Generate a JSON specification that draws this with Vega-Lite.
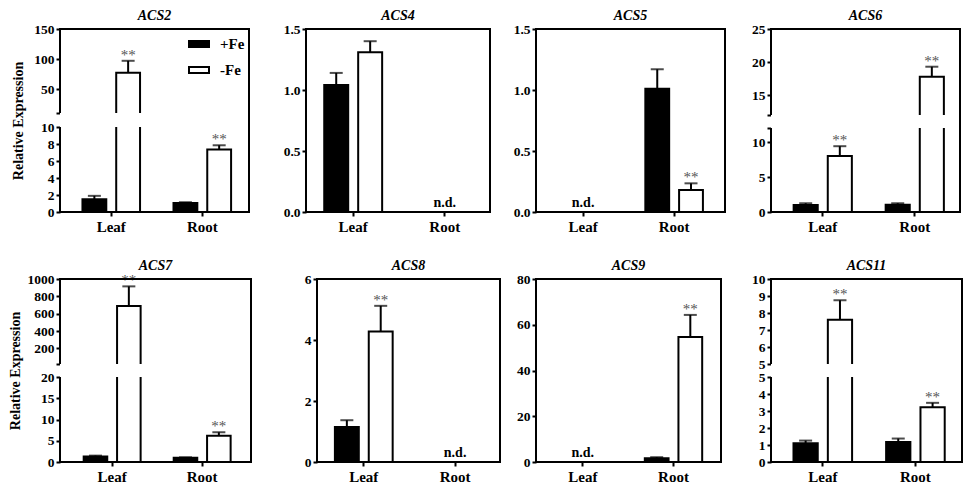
{
  "$schema": "https://vega.github.io/schema/vega-lite/v6.json",
  "background": "white",
  "padding": {"left": 8, "top": 9, "right": 0, "bottom": 0},
  "datasets": {
    "acs2": [
      {"tissue": "Leaf", "treatment": "+Fe", "mean": 1.5, "upper": 1.9, "sig": ""},
      {"tissue": "Leaf", "treatment": "-Fe", "mean": 77, "upper": 97, "sig": "**"},
      {"tissue": "Root", "treatment": "+Fe", "mean": 1.05, "upper": 1.15, "sig": ""},
      {"tissue": "Root", "treatment": "-Fe", "mean": 7.35, "upper": 7.85, "sig": "**"}
    ],
    "acs4": [
      {"tissue": "Leaf", "treatment": "+Fe", "mean": 1.04, "upper": 1.14, "sig": ""},
      {"tissue": "Leaf", "treatment": "-Fe", "mean": 1.31, "upper": 1.4, "sig": ""}
    ],
    "acs5": [
      {"tissue": "Root", "treatment": "+Fe", "mean": 1.01, "upper": 1.17, "sig": ""},
      {"tissue": "Root", "treatment": "-Fe", "mean": 0.18, "upper": 0.235, "sig": "**"}
    ],
    "acs6": [
      {"tissue": "Leaf", "treatment": "+Fe", "mean": 1.0, "upper": 1.25, "sig": ""},
      {"tissue": "Leaf", "treatment": "-Fe", "mean": 8.0, "upper": 9.4, "sig": "**"},
      {"tissue": "Root", "treatment": "+Fe", "mean": 1.05, "upper": 1.25, "sig": ""},
      {"tissue": "Root", "treatment": "-Fe", "mean": 17.8, "upper": 19.3, "sig": "**"}
    ],
    "acs7": [
      {"tissue": "Leaf", "treatment": "+Fe", "mean": 1.3, "upper": 1.5, "sig": ""},
      {"tissue": "Leaf", "treatment": "-Fe", "mean": 690, "upper": 915, "sig": "**"},
      {"tissue": "Root", "treatment": "+Fe", "mean": 1.0, "upper": 1.1, "sig": ""},
      {"tissue": "Root", "treatment": "-Fe", "mean": 6.2, "upper": 7.0, "sig": "**"}
    ],
    "acs8": [
      {"tissue": "Leaf", "treatment": "+Fe", "mean": 1.15, "upper": 1.37, "sig": ""},
      {"tissue": "Leaf", "treatment": "-Fe", "mean": 4.28, "upper": 5.12, "sig": "**"}
    ],
    "acs9": [
      {"tissue": "Root", "treatment": "+Fe", "mean": 1.6, "upper": 2.1, "sig": ""},
      {"tissue": "Root", "treatment": "-Fe", "mean": 54.6, "upper": 64.3, "sig": "**"}
    ],
    "acs11": [
      {"tissue": "Leaf", "treatment": "+Fe", "mean": 1.1, "upper": 1.26, "sig": ""},
      {"tissue": "Leaf", "treatment": "-Fe", "mean": 7.6, "upper": 8.75, "sig": "**"},
      {"tissue": "Root", "treatment": "+Fe", "mean": 1.18, "upper": 1.38, "sig": ""},
      {"tissue": "Root", "treatment": "-Fe", "mean": 3.22, "upper": 3.48, "sig": "**"}
    ]
  },
  "spacing": 25,
  "resolve": {"scale": {"fill": "independent", "xOffset": "independent"}, "legend": {"fill": "independent"}},
  "vconcat": [
    {
      "spacing": 0,
      "resolve": {"scale": {"fill": "independent", "xOffset": "independent"}, "legend": {"fill": "independent"}},
      "hconcat": [
        {
          "width": 189, "height": 183, "title": "ACS2",
          "layer": [
            {"data": {"name": "acs2"}, "mark": {"type": "bar", "stroke": "black", "strokeWidth": 2},
             "encoding": {
               "x": {"field": "tissue", "type": "nominal", "title": null, "scale": {"domain": ["Leaf", "Root"], "paddingInner": 0.34, "paddingOuter": 0.208, "align": 0.56}},
               "xOffset": {"field": "treatment", "type": "nominal", "scale": {"domain": ["+Fe", "-Fe"], "paddingInner": 0.294, "paddingOuter": 0.037}},
               "y": {"field": "mean", "type": "quantitative", "title": "Relative Expression", "scale": {"domain": [0, 10, 10.001, 150], "range": [183, 98, 84, 0], "nice": false, "zero": false},
                     "axis": {"values": [0, 2, 4, 6, 8, 10, 10.001, 50, 100, 150], "format": "d", "tickMinStep": 0.0001, "labelExpr": "datum.value == 10.001 ? '' : datum.label", "minExtent": 30}},
               "fill": {"field": "treatment", "type": "nominal", "scale": {"domain": ["+Fe", "-Fe"], "range": ["black", "white"]},
                        "legend": {"orient": "top-right", "title": null, "offset": 4, "symbolType": "M-1,-0.3L1,-0.3L1,0.3L-1,0.3Z", "symbolSize": 400, "symbolStrokeColor": "black", "symbolStrokeWidth": 2, "labelFont": "Liberation Serif", "labelFontWeight": "bold", "labelFontSize": 15, "labelColor": "black", "labelOffset": 10, "rowPadding": 7}}
             }},
            {"data": {"name": "acs2"}, "mark": {"type": "rule", "color": "black", "strokeWidth": 2},
             "encoding": {"x": {"field": "tissue", "type": "nominal", "title": null}, "xOffset": {"field": "treatment", "type": "nominal"},
                          "y": {"field": "mean", "type": "quantitative", "title": "Relative Expression"}, "y2": {"field": "upper"}}},
            {"data": {"name": "acs2"}, "mark": {"type": "tick", "color": "black", "thickness": 2, "size": 13},
             "encoding": {"x": {"field": "tissue", "type": "nominal", "title": null}, "xOffset": {"field": "treatment", "type": "nominal"},
                          "y": {"field": "upper", "type": "quantitative", "title": "Relative Expression"}}},
            {"data": {"name": "acs2"}, "transform": [{"filter": "datum.sig == '**'"}],
             "mark": {"type": "text", "font": "Liberation Serif", "fontSize": 15, "color": "#555555", "baseline": "alphabetic", "dy": -1},
             "encoding": {"x": {"field": "tissue", "type": "nominal", "title": null}, "xOffset": {"field": "treatment", "type": "nominal"},
                          "y": {"field": "upper", "type": "quantitative", "title": "Relative Expression"}, "text": {"field": "sig"}}},
            {"data": {"values": [{}]}, "mark": {"type": "rect", "color": "white"},
             "encoding": {"y": {"datum": 10, "type": "quantitative", "title": "Relative Expression"}, "y2": {"datum": 10.001}}},
            {"data": {"values": [{}]}, "mark": {"type": "rect", "filled": false, "color": "black", "strokeWidth": 2, "strokeDash": [646, 14, 200]}, "encoding": {}}
          ]
        },
        {
          "width": 184, "height": 183, "title": "ACS4",
          "layer": [
            {"data": {"name": "acs4"}, "mark": {"type": "bar", "stroke": "black", "strokeWidth": 2},
             "encoding": {
               "x": {"field": "tissue", "type": "nominal", "title": null, "scale": {"domain": ["Leaf", "Root"], "paddingInner": 0.34, "paddingOuter": 0.175, "align": 0.53}},
               "xOffset": {"field": "treatment", "type": "nominal", "scale": {"domain": ["+Fe", "-Fe"], "paddingInner": 0.294, "paddingOuter": 0.037}},
               "y": {"field": "mean", "type": "quantitative", "title": null, "scale": {"domain": [0, 1.5], "nice": false, "zero": false},
                     "axis": {"values": [0, 0.5, 1, 1.5], "format": ".1f", "minExtent": 56}},
               "fill": {"field": "treatment", "type": "nominal", "scale": {"domain": ["+Fe", "-Fe"], "range": ["black", "white"]}, "legend": null}
             }},
            {"data": {"name": "acs4"}, "mark": {"type": "rule", "color": "black", "strokeWidth": 2},
             "encoding": {"x": {"field": "tissue", "type": "nominal", "title": null}, "xOffset": {"field": "treatment", "type": "nominal"},
                          "y": {"field": "mean", "type": "quantitative", "title": null}, "y2": {"field": "upper"}}},
            {"data": {"name": "acs4"}, "mark": {"type": "tick", "color": "black", "thickness": 2, "size": 13},
             "encoding": {"x": {"field": "tissue", "type": "nominal", "title": null}, "xOffset": {"field": "treatment", "type": "nominal"},
                          "y": {"field": "upper", "type": "quantitative", "title": null}}},
            {"data": {"values": [{"tissue": "Root", "label": "n.d."}]},
             "mark": {"type": "text", "font": "Liberation Serif", "fontWeight": "bold", "fontSize": 14, "color": "black", "baseline": "alphabetic", "dy": -5},
             "encoding": {"x": {"field": "tissue", "type": "nominal", "title": null}, "y": {"datum": 0, "type": "quantitative", "title": null}, "text": {"field": "label"}}},
            {"data": {"values": [{}]}, "mark": {"type": "rect", "filled": false, "color": "black", "strokeWidth": 2}, "encoding": {}}
          ]
        },
        {
          "width": 189, "height": 183, "title": "ACS5",
          "layer": [
            {"data": {"name": "acs5"}, "mark": {"type": "bar", "stroke": "black", "strokeWidth": 2},
             "encoding": {
               "x": {"field": "tissue", "type": "nominal", "title": null, "scale": {"domain": ["Leaf", "Root"], "paddingInner": 0.34, "paddingOuter": 0.208, "align": 0.45}},
               "xOffset": {"field": "treatment", "type": "nominal", "scale": {"domain": ["+Fe", "-Fe"], "paddingInner": 0.294, "paddingOuter": 0.037}},
               "y": {"field": "mean", "type": "quantitative", "title": null, "scale": {"domain": [0, 1.5], "nice": false, "zero": false},
                     "axis": {"values": [0, 0.5, 1, 1.5], "format": ".1f", "minExtent": 45}},
               "fill": {"field": "treatment", "type": "nominal", "scale": {"domain": ["+Fe", "-Fe"], "range": ["black", "white"]}, "legend": null}
             }},
            {"data": {"name": "acs5"}, "mark": {"type": "rule", "color": "black", "strokeWidth": 2},
             "encoding": {"x": {"field": "tissue", "type": "nominal", "title": null}, "xOffset": {"field": "treatment", "type": "nominal"},
                          "y": {"field": "mean", "type": "quantitative", "title": null}, "y2": {"field": "upper"}}},
            {"data": {"name": "acs5"}, "mark": {"type": "tick", "color": "black", "thickness": 2, "size": 13},
             "encoding": {"x": {"field": "tissue", "type": "nominal", "title": null}, "xOffset": {"field": "treatment", "type": "nominal"},
                          "y": {"field": "upper", "type": "quantitative", "title": null}}},
            {"data": {"name": "acs5"}, "transform": [{"filter": "datum.sig == '**'"}],
             "mark": {"type": "text", "font": "Liberation Serif", "fontSize": 15, "color": "#555555", "baseline": "alphabetic", "dy": -1},
             "encoding": {"x": {"field": "tissue", "type": "nominal", "title": null}, "xOffset": {"field": "treatment", "type": "nominal"},
                          "y": {"field": "upper", "type": "quantitative", "title": null}, "text": {"field": "sig"}}},
            {"data": {"values": [{"tissue": "Leaf", "label": "n.d."}]},
             "mark": {"type": "text", "font": "Liberation Serif", "fontWeight": "bold", "fontSize": 14, "color": "black", "baseline": "alphabetic", "dy": -5},
             "encoding": {"x": {"field": "tissue", "type": "nominal", "title": null}, "y": {"datum": 0, "type": "quantitative", "title": null}, "text": {"field": "label"}}},
            {"data": {"values": [{}]}, "mark": {"type": "rect", "filled": false, "color": "black", "strokeWidth": 2}, "encoding": {}}
          ]
        },
        {
          "width": 189, "height": 183, "title": "ACS6",
          "layer": [
            {"data": {"name": "acs6"}, "mark": {"type": "bar", "stroke": "black", "strokeWidth": 2},
             "encoding": {
               "x": {"field": "tissue", "type": "nominal", "title": null, "scale": {"domain": ["Leaf", "Root"], "paddingInner": 0.34, "paddingOuter": 0.197, "align": 0.59}},
               "xOffset": {"field": "treatment", "type": "nominal", "scale": {"domain": ["+Fe", "-Fe"], "paddingInner": 0.294, "paddingOuter": 0.037}},
               "y": {"field": "mean", "type": "quantitative", "title": null, "scale": {"domain": [0, 12, 12.001, 25], "range": [183, 99, 86, 0], "nice": false, "zero": false},
                     "axis": {"values": [0, 5, 10, 12, 12.001, 15, 20, 25], "format": "d", "tickMinStep": 0.0001, "labelExpr": "datum.value == 12 || datum.value == 12.001 ? '' : datum.label", "minExtent": 45}},
               "fill": {"field": "treatment", "type": "nominal", "scale": {"domain": ["+Fe", "-Fe"], "range": ["black", "white"]}, "legend": null}
             }},
            {"data": {"name": "acs6"}, "mark": {"type": "rule", "color": "black", "strokeWidth": 2},
             "encoding": {"x": {"field": "tissue", "type": "nominal", "title": null}, "xOffset": {"field": "treatment", "type": "nominal"},
                          "y": {"field": "mean", "type": "quantitative", "title": null}, "y2": {"field": "upper"}}},
            {"data": {"name": "acs6"}, "mark": {"type": "tick", "color": "black", "thickness": 2, "size": 13},
             "encoding": {"x": {"field": "tissue", "type": "nominal", "title": null}, "xOffset": {"field": "treatment", "type": "nominal"},
                          "y": {"field": "upper", "type": "quantitative", "title": null}}},
            {"data": {"name": "acs6"}, "transform": [{"filter": "datum.sig == '**'"}],
             "mark": {"type": "text", "font": "Liberation Serif", "fontSize": 15, "color": "#555555", "baseline": "alphabetic", "dy": -1},
             "encoding": {"x": {"field": "tissue", "type": "nominal", "title": null}, "xOffset": {"field": "treatment", "type": "nominal"},
                          "y": {"field": "upper", "type": "quantitative", "title": null}, "text": {"field": "sig"}}},
            {"data": {"values": [{}]}, "mark": {"type": "rect", "color": "white"},
             "encoding": {"y": {"datum": 12, "type": "quantitative", "title": null}, "y2": {"datum": 12.001}}},
            {"data": {"values": [{}]}, "mark": {"type": "rect", "filled": false, "color": "black", "strokeWidth": 2, "strokeDash": [645, 13, 200]}, "encoding": {}}
          ]
        }
      ]
    },
    {
      "spacing": 0,
      "resolve": {"scale": {"fill": "independent", "xOffset": "independent"}, "legend": {"fill": "independent"}},
      "hconcat": [
        {
          "width": 191, "height": 183, "title": "ACS7",
          "layer": [
            {"data": {"name": "acs7"}, "mark": {"type": "bar", "stroke": "black", "strokeWidth": 2},
             "encoding": {
               "x": {"field": "tissue", "type": "nominal", "title": null, "scale": {"domain": ["Leaf", "Root"], "paddingInner": 0.34, "paddingOuter": 0.231, "align": 0.54}},
               "xOffset": {"field": "treatment", "type": "nominal", "scale": {"domain": ["+Fe", "-Fe"], "paddingInner": 0.294, "paddingOuter": 0.037}},
               "y": {"field": "mean", "type": "quantitative", "title": "Relative Expression", "scale": {"domain": [0, 20, 20.001, 1000], "range": [183, 98, 85, 0], "nice": false, "zero": false},
                     "axis": {"values": [0, 5, 10, 15, 20, 20.001, 200, 400, 600, 800, 1000], "format": "d", "tickMinStep": 0.0001, "labelExpr": "datum.value == 20.001 ? '' : datum.label", "minExtent": 30}},
               "fill": {"field": "treatment", "type": "nominal", "scale": {"domain": ["+Fe", "-Fe"], "range": ["black", "white"]}, "legend": null}
             }},
            {"data": {"name": "acs7"}, "mark": {"type": "rule", "color": "black", "strokeWidth": 2},
             "encoding": {"x": {"field": "tissue", "type": "nominal", "title": null}, "xOffset": {"field": "treatment", "type": "nominal"},
                          "y": {"field": "mean", "type": "quantitative", "title": "Relative Expression"}, "y2": {"field": "upper"}}},
            {"data": {"name": "acs7"}, "mark": {"type": "tick", "color": "black", "thickness": 2, "size": 13},
             "encoding": {"x": {"field": "tissue", "type": "nominal", "title": null}, "xOffset": {"field": "treatment", "type": "nominal"},
                          "y": {"field": "upper", "type": "quantitative", "title": "Relative Expression"}}},
            {"data": {"name": "acs7"}, "transform": [{"filter": "datum.sig == '**'"}],
             "mark": {"type": "text", "font": "Liberation Serif", "fontSize": 15, "color": "#555555", "baseline": "alphabetic", "dy": -1},
             "encoding": {"x": {"field": "tissue", "type": "nominal", "title": null}, "xOffset": {"field": "treatment", "type": "nominal"},
                          "y": {"field": "upper", "type": "quantitative", "title": "Relative Expression"}, "text": {"field": "sig"}}},
            {"data": {"values": [{}]}, "mark": {"type": "rect", "color": "white"},
             "encoding": {"y": {"datum": 20, "type": "quantitative", "title": "Relative Expression"}, "y2": {"datum": 20.001}}},
            {"data": {"values": [{}]}, "mark": {"type": "rect", "filled": false, "color": "black", "strokeWidth": 2, "strokeDash": [650, 13, 200]}, "encoding": {}}
          ]
        },
        {
          "width": 183, "height": 183, "title": "ACS8",
          "layer": [
            {"data": {"name": "acs8"}, "mark": {"type": "bar", "stroke": "black", "strokeWidth": 2},
             "encoding": {
               "x": {"field": "tissue", "type": "nominal", "title": null, "scale": {"domain": ["Leaf", "Root"], "paddingInner": 0.34, "paddingOuter": 0.172, "align": 0.53}},
               "xOffset": {"field": "treatment", "type": "nominal", "scale": {"domain": ["+Fe", "-Fe"], "paddingInner": 0.294, "paddingOuter": 0.037}},
               "y": {"field": "mean", "type": "quantitative", "title": null, "scale": {"domain": [0, 6], "nice": false, "zero": false},
                     "axis": {"values": [0, 2, 4, 6], "format": "d", "minExtent": 65}},
               "fill": {"field": "treatment", "type": "nominal", "scale": {"domain": ["+Fe", "-Fe"], "range": ["black", "white"]}, "legend": null}
             }},
            {"data": {"name": "acs8"}, "mark": {"type": "rule", "color": "black", "strokeWidth": 2},
             "encoding": {"x": {"field": "tissue", "type": "nominal", "title": null}, "xOffset": {"field": "treatment", "type": "nominal"},
                          "y": {"field": "mean", "type": "quantitative", "title": null}, "y2": {"field": "upper"}}},
            {"data": {"name": "acs8"}, "mark": {"type": "tick", "color": "black", "thickness": 2, "size": 13},
             "encoding": {"x": {"field": "tissue", "type": "nominal", "title": null}, "xOffset": {"field": "treatment", "type": "nominal"},
                          "y": {"field": "upper", "type": "quantitative", "title": null}}},
            {"data": {"name": "acs8"}, "transform": [{"filter": "datum.sig == '**'"}],
             "mark": {"type": "text", "font": "Liberation Serif", "fontSize": 15, "color": "#555555", "baseline": "alphabetic", "dy": -1},
             "encoding": {"x": {"field": "tissue", "type": "nominal", "title": null}, "xOffset": {"field": "treatment", "type": "nominal"},
                          "y": {"field": "upper", "type": "quantitative", "title": null}, "text": {"field": "sig"}}},
            {"data": {"values": [{"tissue": "Root", "label": "n.d."}]},
             "mark": {"type": "text", "font": "Liberation Serif", "fontWeight": "bold", "fontSize": 14, "color": "black", "baseline": "alphabetic", "dy": -5},
             "encoding": {"x": {"field": "tissue", "type": "nominal", "title": null}, "y": {"datum": 0, "type": "quantitative", "title": null}, "text": {"field": "label"}}},
            {"data": {"values": [{}]}, "mark": {"type": "rect", "filled": false, "color": "black", "strokeWidth": 2}, "encoding": {}}
          ]
        },
        {
          "width": 185, "height": 183, "title": "ACS9",
          "layer": [
            {"data": {"name": "acs9"}, "mark": {"type": "bar", "stroke": "black", "strokeWidth": 2},
             "encoding": {
               "x": {"field": "tissue", "type": "nominal", "title": null, "scale": {"domain": ["Leaf", "Root"], "paddingInner": 0.34, "paddingOuter": 0.19, "align": 0.49}},
               "xOffset": {"field": "treatment", "type": "nominal", "scale": {"domain": ["+Fe", "-Fe"], "paddingInner": 0.294, "paddingOuter": 0.037}},
               "y": {"field": "mean", "type": "quantitative", "title": null, "scale": {"domain": [0, 80], "nice": false, "zero": false},
                     "axis": {"values": [0, 20, 40, 60, 80], "format": "d", "minExtent": 35}},
               "fill": {"field": "treatment", "type": "nominal", "scale": {"domain": ["+Fe", "-Fe"], "range": ["black", "white"]}, "legend": null}
             }},
            {"data": {"name": "acs9"}, "mark": {"type": "rule", "color": "black", "strokeWidth": 2},
             "encoding": {"x": {"field": "tissue", "type": "nominal", "title": null}, "xOffset": {"field": "treatment", "type": "nominal"},
                          "y": {"field": "mean", "type": "quantitative", "title": null}, "y2": {"field": "upper"}}},
            {"data": {"name": "acs9"}, "mark": {"type": "tick", "color": "black", "thickness": 2, "size": 13},
             "encoding": {"x": {"field": "tissue", "type": "nominal", "title": null}, "xOffset": {"field": "treatment", "type": "nominal"},
                          "y": {"field": "upper", "type": "quantitative", "title": null}}},
            {"data": {"name": "acs9"}, "transform": [{"filter": "datum.sig == '**'"}],
             "mark": {"type": "text", "font": "Liberation Serif", "fontSize": 15, "color": "#555555", "baseline": "alphabetic", "dy": -1},
             "encoding": {"x": {"field": "tissue", "type": "nominal", "title": null}, "xOffset": {"field": "treatment", "type": "nominal"},
                          "y": {"field": "upper", "type": "quantitative", "title": null}, "text": {"field": "sig"}}},
            {"data": {"values": [{"tissue": "Leaf", "label": "n.d."}]},
             "mark": {"type": "text", "font": "Liberation Serif", "fontWeight": "bold", "fontSize": 14, "color": "black", "baseline": "alphabetic", "dy": -5},
             "encoding": {"x": {"field": "tissue", "type": "nominal", "title": null}, "y": {"datum": 0, "type": "quantitative", "title": null}, "text": {"field": "label"}}},
            {"data": {"values": [{}]}, "mark": {"type": "rect", "filled": false, "color": "black", "strokeWidth": 2}, "encoding": {}}
          ]
        },
        {
          "width": 191, "height": 183, "title": "ACS11",
          "layer": [
            {"data": {"name": "acs11"}, "mark": {"type": "bar", "stroke": "black", "strokeWidth": 2},
             "encoding": {
               "x": {"field": "tissue", "type": "nominal", "title": null, "scale": {"domain": ["Leaf", "Root"], "paddingInner": 0.34, "paddingOuter": 0.201, "align": 0.57}},
               "xOffset": {"field": "treatment", "type": "nominal", "scale": {"domain": ["+Fe", "-Fe"], "paddingInner": 0.294, "paddingOuter": 0.037}},
               "y": {"field": "mean", "type": "quantitative", "title": null, "scale": {"domain": [0, 5, 5.001, 10], "range": [183, 98, 85, 0], "nice": false, "zero": false},
                     "axis": {"values": [0, 1, 2, 3, 4, 5, 5.001, 6, 7, 8, 9, 10], "format": "d", "tickMinStep": 0.0001, "tickCount": 50, "minExtent": 49}},
               "fill": {"field": "treatment", "type": "nominal", "scale": {"domain": ["+Fe", "-Fe"], "range": ["black", "white"]}, "legend": null}
             }},
            {"data": {"name": "acs11"}, "mark": {"type": "rule", "color": "black", "strokeWidth": 2},
             "encoding": {"x": {"field": "tissue", "type": "nominal", "title": null}, "xOffset": {"field": "treatment", "type": "nominal"},
                          "y": {"field": "mean", "type": "quantitative", "title": null}, "y2": {"field": "upper"}}},
            {"data": {"name": "acs11"}, "mark": {"type": "tick", "color": "black", "thickness": 2, "size": 13},
             "encoding": {"x": {"field": "tissue", "type": "nominal", "title": null}, "xOffset": {"field": "treatment", "type": "nominal"},
                          "y": {"field": "upper", "type": "quantitative", "title": null}}},
            {"data": {"name": "acs11"}, "transform": [{"filter": "datum.sig == '**'"}],
             "mark": {"type": "text", "font": "Liberation Serif", "fontSize": 15, "color": "#555555", "baseline": "alphabetic", "dy": -1},
             "encoding": {"x": {"field": "tissue", "type": "nominal", "title": null}, "xOffset": {"field": "treatment", "type": "nominal"},
                          "y": {"field": "upper", "type": "quantitative", "title": null}, "text": {"field": "sig"}}},
            {"data": {"values": [{}]}, "mark": {"type": "rect", "color": "white"},
             "encoding": {"y": {"datum": 5, "type": "quantitative", "title": null}, "y2": {"datum": 5.001}}},
            {"data": {"values": [{}]}, "mark": {"type": "rect", "filled": false, "color": "black", "strokeWidth": 2, "strokeDash": [650, 13, 200]}, "encoding": {}}
          ]
        }
      ]
    }
  ],
  "config": {
    "view": {"stroke": null},
    "font": "Liberation Serif",
    "axis": {"domain": false, "grid": false, "ticks": true, "tickColor": "black", "tickWidth": 2, "tickSize": 4,
             "labelFont": "Liberation Serif", "labelFontWeight": "bold", "labelColor": "black", "labelOverlap": false,
             "titleFont": "Liberation Serif", "titleFontWeight": "bold", "titleColor": "black"},
    "axisX": {"labelFontSize": 15, "labelPadding": 3, "labelAngle": 0},
    "axisY": {"labelFontSize": 13.5, "labelPadding": 2, "titleFontSize": 14, "titlePadding": 5, "tickCount": 50},
    "title": {"font": "Liberation Serif", "fontStyle": "italic", "fontWeight": "bold", "fontSize": 14, "color": "black", "offset": -1, "frame": "group"}
  }
}
